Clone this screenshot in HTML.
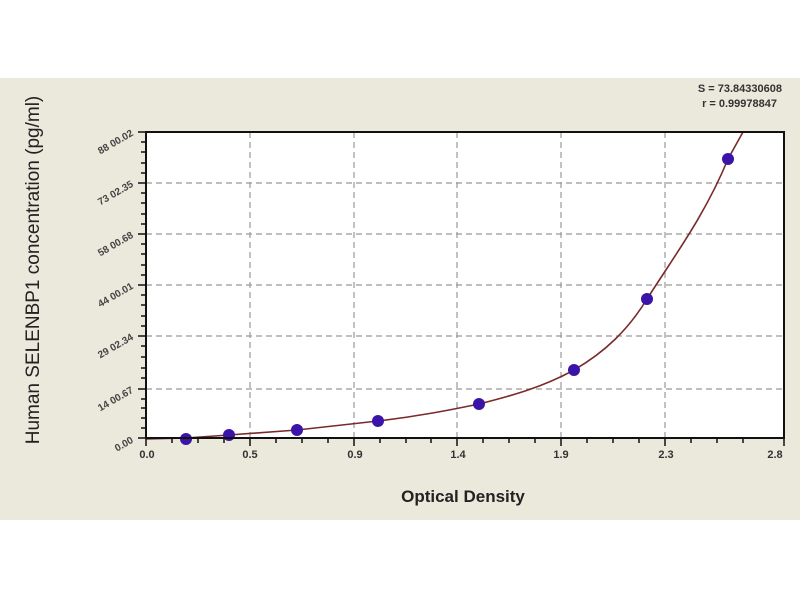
<!DOCTYPE html>
<html><head><meta charset="utf-8"><style>
html,body{margin:0;padding:0;background:#fff;width:800px;height:600px;overflow:hidden}
</style></head><body>
<svg width="800" height="600" xmlns="http://www.w3.org/2000/svg" font-family="Liberation Sans, sans-serif">
<rect x="0" y="78" width="800" height="442" fill="#ebe8dc"/>
<rect x="146" y="132" width="638" height="306" fill="#fff"/>
<g stroke="#999" stroke-width="1.2" stroke-dasharray="6,4">
<line x1="146" y1="183" x2="784" y2="183"/><line x1="146" y1="234" x2="784" y2="234"/>
<line x1="146" y1="285" x2="784" y2="285"/><line x1="146" y1="336" x2="784" y2="336"/>
<line x1="146" y1="389" x2="784" y2="389"/>
<line x1="250" y1="132" x2="250" y2="438"/><line x1="354" y1="132" x2="354" y2="438"/>
<line x1="457" y1="132" x2="457" y2="438"/><line x1="561" y1="132" x2="561" y2="438"/>
<line x1="665" y1="132" x2="665" y2="438"/>
</g>
<path d="M146,439 L186,438 L229,435 L297,430 L378,421 C420,416 450,410 479,404 C515,395 545,386 574,370 C605,352 628,330 647,299 C675,255 705,215 728,159 L743,132" fill="none" stroke="#7a2a2a" stroke-width="1.6"/>
<g fill="#3a14a8">
<circle cx="186" cy="439" r="6"/><circle cx="229" cy="435" r="6"/><circle cx="297" cy="430" r="6"/>
<circle cx="378" cy="421" r="6"/><circle cx="479" cy="404" r="6"/><circle cx="574" cy="370" r="6"/>
<circle cx="647" cy="299" r="6"/><circle cx="728" cy="159" r="6"/>
</g>
<rect x="146" y="132" width="638" height="306" fill="none" stroke="#111" stroke-width="2"/>
<g stroke="#111" stroke-width="1.5">
<path d="M146,438v8M172,438v5M198,438v5M224,438v5M250,438v8M276,438v5M302,438v5M328,438v5M354,438v8M380,438v5M406,438v5M431,438v5M457,438v8M483,438v5M509,438v5M535,438v5M561,438v8M587,438v5M613,438v5M639,438v5M665,438v8M691,438v5M717,438v5M743,438v5M784,438v8"/>
<path d="M146,438h-8M146,428h-5M146,418h-5M146,408h-5M146,399h-5M146,389h-8M146,378h-5M146,368h-5M146,357h-5M146,346h-5M146,336h-8M146,326h-5M146,316h-5M146,305h-5M146,295h-5M146,285h-8M146,275h-5M146,265h-5M146,254h-5M146,244h-5M146,234h-8M146,224h-5M146,214h-5M146,203h-5M146,193h-5M146,183h-8M146,173h-5M146,163h-5M146,152h-5M146,142h-5M146,132h-8"/>
</g>
<g font-size="11" font-weight="bold" fill="#333" text-anchor="middle">
<text x="147" y="458">0.0</text><text x="250" y="458">0.5</text><text x="355" y="458">0.9</text>
<text x="458" y="458">1.4</text><text x="561" y="458">1.9</text><text x="666" y="458">2.3</text><text x="775" y="458">2.8</text>
</g>
<g font-size="10" font-weight="bold" fill="#444" text-anchor="end">
<text transform="translate(134,442) rotate(-30)">0.00</text>
<text transform="translate(134,392) rotate(-30)">14 00.67</text>
<text transform="translate(134,339) rotate(-30)">29 02.34</text>
<text transform="translate(134,288) rotate(-30)">44 00.01</text>
<text transform="translate(134,237) rotate(-30)">58 00.68</text>
<text transform="translate(134,186) rotate(-30)">73 02.35</text>
<text transform="translate(134,135) rotate(-30)">88 00.02</text>
</g>
<text transform="translate(39,270) rotate(-90)" font-size="19" fill="#222" text-anchor="middle">Human SELENBP1 concentration (pg/ml)</text>
<text x="463" y="502" font-size="17" font-weight="bold" fill="#222" text-anchor="middle">Optical Density</text>
<g font-size="11" font-weight="bold" fill="#333" text-anchor="end">
<text x="782" y="92">S = 73.84330608</text><text x="777" y="107">r = 0.99978847</text>
</g>
</svg>
</body></html>
